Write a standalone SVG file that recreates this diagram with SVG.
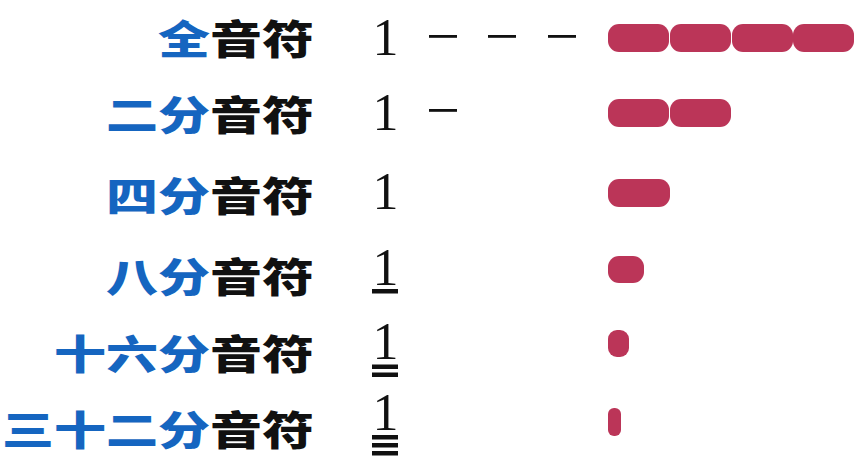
<svg xmlns="http://www.w3.org/2000/svg" width="868" height="466" viewBox="0 0 868 466">
<style>
.lbl{font-family:"Noto Sans CJK SC","Noto Sans CJK JP",sans-serif;font-size:52px;font-weight:900;text-anchor:end}
.b{fill:#1565c0}
.k{fill:#111}
.num{font-family:"Liberation Serif","DejaVu Serif",serif;font-size:52px;fill:#111;text-anchor:middle}
.ln{fill:#111}
.bar{fill:#bb3558}
</style>
<rect width="868" height="466" fill="#fff"/>
<g id="row1">
<text class="lbl" transform="translate(314,54) scale(1,0.765)"><tspan class="b">全</tspan><tspan class="k">音符</tspan></text>
<text class="num" x="385.5" y="55">1</text>
<rect class="ln" x="429" y="35" width="28" height="2.8"/>
<rect class="ln" x="488" y="35" width="28" height="2.8"/>
<rect class="ln" x="548" y="35" width="28" height="2.8"/>
<rect class="bar" x="608" y="24" width="61" height="28" rx="11"/>
<rect class="bar" x="670" y="24" width="61" height="28" rx="11"/>
<rect class="bar" x="732" y="24" width="61" height="28" rx="11"/>
<rect class="bar" x="793" y="24" width="61" height="28" rx="11"/>
</g>
<g id="row2">
<text class="lbl" transform="translate(314,130) scale(1,0.765)"><tspan class="b">二分</tspan><tspan class="k">音符</tspan></text>
<text class="num" x="385.5" y="130">1</text>
<rect class="ln" x="429" y="109" width="28" height="2.8"/>
<rect class="bar" x="608" y="99" width="61" height="28" rx="11"/>
<rect class="bar" x="670" y="99" width="61" height="28" rx="11"/>
</g>
<g id="row3">
<text class="lbl" transform="translate(314,211) scale(1,0.765)"><tspan class="b">四分</tspan><tspan class="k">音符</tspan></text>
<text class="num" x="385.5" y="209">1</text>
<rect class="bar" x="608" y="179" width="62" height="28" rx="11"/>
</g>
<g id="row4">
<text class="lbl" transform="translate(314,292) scale(1,0.765)"><tspan class="b">八分</tspan><tspan class="k">音符</tspan></text>
<text class="num" x="385.5" y="285">1</text>
<rect class="ln" x="372" y="289" width="26" height="4.5"/>
<rect class="bar" x="608" y="256" width="36" height="27" rx="11"/>
</g>
<g id="row5">
<text class="lbl" transform="translate(314,369) scale(1,0.765)"><tspan class="b">十六分</tspan><tspan class="k">音符</tspan></text>
<text class="num" x="385.5" y="359">1</text>
<rect class="ln" x="372" y="364.5" width="26" height="4.5"/>
<rect class="ln" x="372" y="372.5" width="26" height="4.5"/>
<rect class="bar" x="608" y="330" width="21" height="27" rx="9"/>
</g>
<g id="row6">
<text class="lbl" transform="translate(314,445) scale(1,0.765)"><tspan class="b">三十二分</tspan><tspan class="k">音符</tspan></text>
<text class="num" x="385.5" y="430">1</text>
<rect class="ln" x="372" y="435" width="26" height="4.5"/>
<rect class="ln" x="372" y="443" width="26" height="4.5"/>
<rect class="ln" x="372" y="451" width="26" height="4.5"/>
<rect class="bar" x="608" y="408" width="13" height="28" rx="6"/>
</g>
</svg>
